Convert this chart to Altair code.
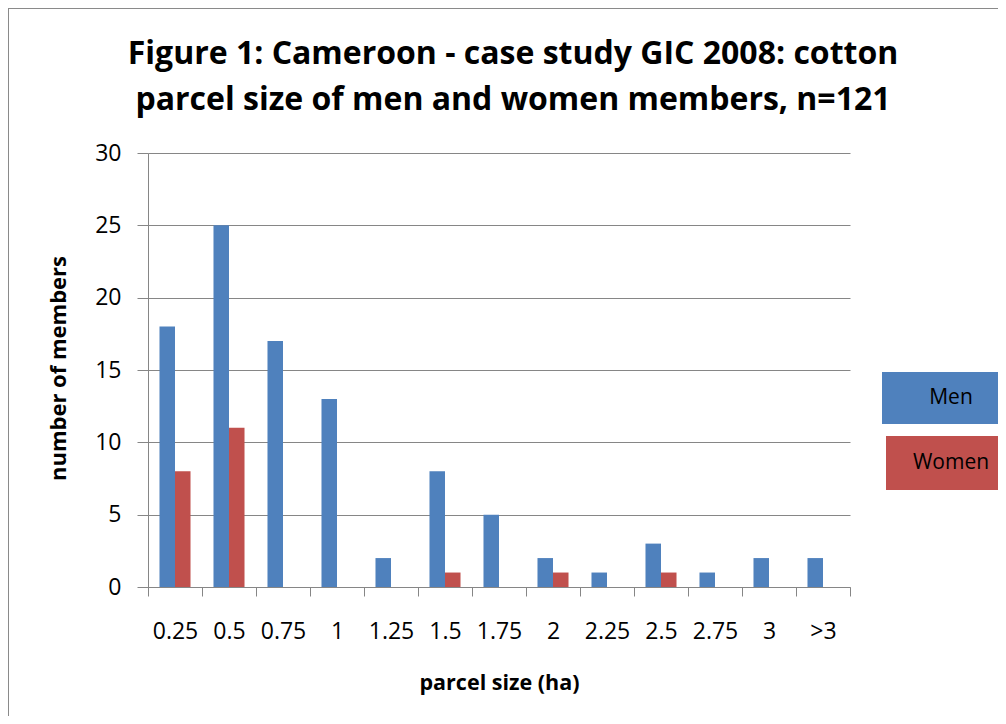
import altair as alt
import pandas as pd

categories = ["0.25", "0.5", "0.75", "1", "1.25", "1.5", "1.75", "2", "2.25", "2.5", "2.75", "3", ">3"]
men = [18, 25, 17, 13, 2, 8, 5, 2, 1, 3, 1, 2, 2]
women = [8, 11, 0, 0, 0, 1, 0, 1, 0, 1, 0, 0, 0]
series = ["Men", "Women"]
colors = ["#4F81BD", "#C0504D"]
y_ticks = [0, 5, 10, 15, 20, 25, 30]

title_lines = ["Figure 1:  Cameroon - case study GIC 2008:  cotton",
               "parcel size of men and women members, n=121"]

rows = []
for c, m, w in zip(categories, men, women):
    rows.append({"size": c, "series": "Men", "count": m})
    rows.append({"size": c, "series": "Women", "count": w})
df = pd.DataFrame(rows)

W, H = 702, 434
GRID = "#868686"
FONT = "Open Sans"

bars = alt.Chart(df).mark_bar().encode(
    x=alt.X("size:N", sort=categories,
            scale=alt.Scale(paddingInner=0, paddingOuter=0),
            axis=alt.Axis(title="parcel size (ha)", tickBand="extent", labelAngle=0,
                          domainColor=GRID, tickColor=GRID, tickSize=9,
                          labelFont=FONT, labelFontSize=23, labelColor="#000000",
                          labelBaseline="middle", labelPadding=35,
                          titleFont=FONT, titleFontSize=21.5, titleFontWeight="bold",
                          titleColor="#000000", titleBaseline="middle", titleY=96)),
    xOffset=alt.XOffset("series:N", sort=series,
                        scale=alt.Scale(paddingInner=0, paddingOuter=0.74)),
    y=alt.Y("count:Q", scale=alt.Scale(domain=[0, 30], nice=False),
            axis=alt.Axis(title="number of members", values=y_ticks,
                          domainColor=GRID, tickColor=GRID, tickSize=11,
                          gridColor=GRID, gridWidth=1,
                          labelFont=FONT, labelFontSize=23, labelColor="#000000",
                          labelPadding=16,
                          titleFont=FONT, titleFontSize=22, titleFontWeight="bold",
                          titleColor="#000000", titleAngle=-90, titleBaseline="middle",
                          titleAlign="center", titleX=-90, titleY=H / 2 - 2)),
    color=alt.Color("series:N", scale=alt.Scale(domain=series, range=colors), legend=None),
)

one = pd.DataFrame({"k": [0]})
border = alt.Chart(one).mark_rect(fill="transparent", stroke="#8a8a8a", strokeWidth=2).encode(
    x=alt.value(-140), x2=alt.value(W + 200), y=alt.value(-145), y2=alt.value(H + 200)
)

title = alt.Chart(one).mark_text(
    text=title_lines, font=FONT, fontSize=32, fontWeight="bold", color="#000000",
    align="center", baseline="top", lineHeight=46,
).encode(x=alt.value(365), y=alt.value(-114))

legend_pos = {
    "Men": dict(x=734, y=219, y2=271),
    "Women": dict(x=738, y=283, y2=337),
}
legend_layers = []
for name, col in zip(series, colors):
    p = legend_pos[name]
    legend_layers.append(
        alt.Chart(one).mark_rect(color=col).encode(
            x=alt.value(p["x"]), x2=alt.value(W + 200),
            y=alt.value(p["y"]), y2=alt.value(p["y2"]))
    )
    legend_layers.append(
        alt.Chart(one).mark_text(text=name, font=FONT, fontSize=21, color="#000000",
                                 align="center", baseline="middle").encode(
            x=alt.value(803), y=alt.value((p["y"] + p["y2"]) / 2))
    )

chart = alt.layer(bars, border, title, *legend_layers).properties(
    width=W, height=H,
    autosize=alt.AutoSizeParams(type="none"),
    padding={"left": 140, "top": 145, "right": 148, "bottom": 129},
).configure_view(stroke=None).configure_axisX(grid=False)

chart.save("out.html", embed_options={"renderer": "svg", "actions": False})
